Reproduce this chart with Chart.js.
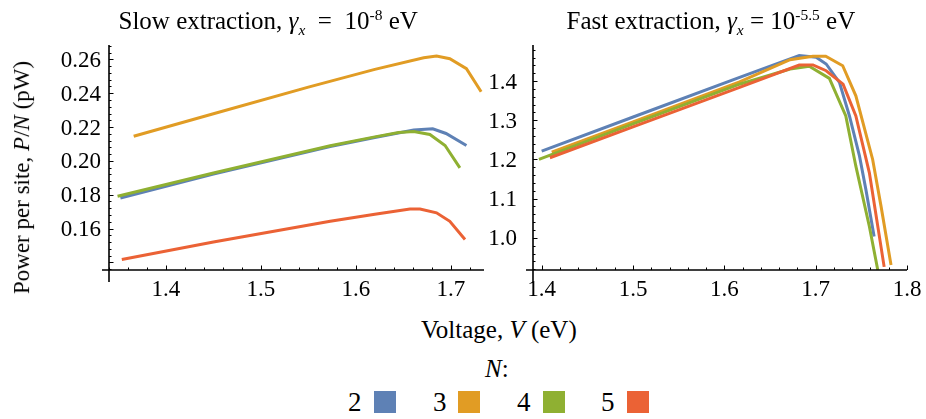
<!DOCTYPE html>
<html>
<head>
<meta charset="utf-8">
<script src="https://cdn.jsdelivr.net/npm/chart.js@4.4.0/dist/chart.umd.min.js"></script>
<style>
  body { margin: 0; background: #fff; width: 926px; height: 419px; overflow: hidden; position: relative;
         font-family: "Liberation Serif", "Times New Roman", serif; color: #000; }
  .t { position: absolute; white-space: nowrap; line-height: 1; }
  canvas { position: absolute; top: 0; }
  #slow { left: 0; }
  #fast { left: 490px; }
  sub, sup { font-size: 62%; line-height: 0; }
  .sw { position: absolute; width: 22px; height: 22px; top: 391px; }
</style>
</head>
<body>
<canvas id="slow" width="490" height="310"></canvas>
<canvas id="fast" width="436" height="310"></canvas>

<div class="t" id="title1" style="font-size:25px;">Slow extraction, <i>&gamma;<sub>x</sub></i> &nbsp;=&nbsp; 10<sup>-8</sup> eV</div>
<div class="t" id="title2" style="font-size:25px;">Fast extraction, <i>&gamma;<sub>x</sub></i> = 10<sup>-5.5</sup> eV</div>
<div class="t" id="ylab" style="font-size:23px;">Power per site, <i>P</i>/<i>N</i> (pW)</div>
<div class="t" id="xlab" style="font-size:25px;">Voltage, <i>V</i> (eV)</div>
<div class="t" id="nlab" style="font-size:25px;"><i>N</i>:</div>
<div id="legend"></div>

<script>
// N values and colours
const nValues = [2, 3, 4, 5];
const colors = ['#5E81B5', '#E19C24', '#8FB032', '#EB6235'];

// slow extraction, gamma_x = 1e-8 eV
const slowV2 = [1.352, 1.45, 1.573, 1.62, 1.661, 1.681, 1.695, 1.7165];
const slowP2 = [0.1781, 0.1922, 0.2085, 0.2138, 0.2182, 0.2190, 0.2162, 0.2091];
const slowV3 = [1.366, 1.45, 1.55, 1.62, 1.6715, 1.685, 1.699, 1.7165, 1.732];
const slowP3 = [0.2146, 0.2279, 0.2436, 0.2541, 0.2610, 0.2620, 0.2604, 0.2545, 0.2409];
const slowV4 = [1.349, 1.45, 1.573, 1.62, 1.645, 1.661, 1.678, 1.694, 1.7096];
const slowP4 = [0.1791, 0.1928, 0.2089, 0.2142, 0.2168, 0.2174, 0.2156, 0.2091, 0.1959];
const slowV5 = [1.3535, 1.45, 1.573, 1.62, 1.657, 1.6676, 1.685, 1.699, 1.715];
const slowP5 = [0.1417, 0.1520, 0.1643, 0.1685, 0.1716, 0.1716, 0.1693, 0.1643, 0.1535];

// fast extraction, gamma_x = 1e-5.5 eV
const fastV2 = [1.4, 1.5075, 1.6167, 1.682, 1.7005, 1.7115, 1.726, 1.737, 1.748, 1.755, 1.764];
const fastP2 = [1.2213, 1.3147, 1.4095, 1.465, 1.461, 1.4436, 1.3967, 1.311, 1.2085, 1.123, 1.0033];
const fastV3 = [1.411, 1.5, 1.6167, 1.672, 1.697, 1.711, 1.7296, 1.744, 1.7624, 1.7716, 1.7825];
const fastP3 = [1.2188, 1.296, 1.398, 1.4546, 1.4633, 1.4633, 1.4392, 1.3623, 1.2, 1.0803, 0.9308];
const fastV4 = [1.397, 1.5, 1.6167, 1.672, 1.693, 1.715, 1.733, 1.744, 1.7588, 1.768];
const fastP4 = [1.2, 1.291, 1.392, 1.4308, 1.4377, 1.4069, 1.311, 1.1828, 1.029, 0.918];
const fastV5 = [1.409, 1.5, 1.6167, 1.682, 1.697, 1.7115, 1.73, 1.744, 1.7588, 1.775];
const fastP5 = [1.2043, 1.283, 1.384, 1.441, 1.441, 1.4264, 1.3923, 1.311, 1.166, 0.926];

// tick labels
const slowXTicks = [1.4, 1.5, 1.6, 1.7];
const slowYTicks = [0.16, 0.18, 0.20, 0.22, 0.24, 0.26];
const fastXTicks = [1.4, 1.5, 1.6, 1.7, 1.8];
const fastYTicks = [1.0, 1.1, 1.2, 1.3, 1.4];

const labelFont = '23px "Liberation Serif", "Times New Roman", serif';

function pts(vs, ps) { return vs.map((v, i) => ({ x: v, y: ps[i] })); }

// Mathematica-like axes: lines crossing at the corner, ticks pointing inward,
// labels set in a Times-like face
const axesPlugin = {
  id: 'mmaAxes',
  afterDatasetsDraw(chart, args, o) {
    const { ctx, chartArea: a, scales: { x, y } } = chart;
    ctx.save();
    ctx.strokeStyle = '#000';
    ctx.lineWidth = 1.6;
    ctx.beginPath();
    ctx.moveTo(a.left - 7, a.bottom); ctx.lineTo(a.right, a.bottom);
    ctx.moveTo(a.left, a.top); ctx.lineTo(a.left, a.bottom + 12);
    ctx.stroke();
    ctx.lineWidth = 1;
    ctx.beginPath();
    const nx = Math.round((x.max - x.min) / o.minorX);
    for (let i = 0; i <= nx + 1; i++) {
      const v = Math.ceil(x.min / o.minorX - 1e-6) * o.minorX + i * o.minorX;
      if (v > x.max + 1e-9) break;
      const major = Math.abs(v / o.majorX - Math.round(v / o.majorX)) < 1e-6;
      const px = Math.round(x.getPixelForValue(v)) + 0.5;
      ctx.moveTo(px, a.bottom); ctx.lineTo(px, a.bottom - (major ? 4.5 : 2.5));
    }
    const ny = Math.round((y.max - y.min) / o.minorY);
    for (let i = 0; i <= ny + 1; i++) {
      const v = Math.ceil(y.min / o.minorY - 1e-6) * o.minorY + i * o.minorY;
      if (v > y.max + 1e-9) break;
      const major = Math.abs(v / o.majorY - Math.round(v / o.majorY)) < 1e-6;
      const py = Math.round(y.getPixelForValue(v)) + 0.5;
      ctx.moveTo(a.left, py); ctx.lineTo(a.left + (major ? 4.5 : 2.5), py);
    }
    ctx.stroke();

    ctx.fillStyle = '#000';
    ctx.font = labelFont;
    ctx.textAlign = 'center';
    ctx.textBaseline = 'alphabetic';
    x.ticks.forEach(t => ctx.fillText(t.value.toFixed(1), x.getPixelForValue(t.value), a.bottom + 26));
    ctx.textAlign = 'right';
    y.ticks.forEach(t => ctx.fillText(t.value.toFixed(o.digits), a.left - o.yPad, y.getPixelForValue(t.value) + 7.5));
    ctx.restore();
  }
};

function makeChart(id, vs, ps, xr, yr, xTicks, yTicks, yWidth, padRight, minor) {
  const datasets = nValues.map((n, i) => ({
    label: String(n),
    data: pts(vs[i], ps[i]),
    borderColor: colors[i],
    borderWidth: 3,
    pointRadius: 0,
    tension: 0,
    fill: false,
    order: 4 - i
  }));
  return new Chart(document.getElementById(id), {
    type: 'line',
    data: { datasets },
    options: {
      responsive: false,
      animation: false,
      layout: { padding: { top: 45, right: padRight, left: 0, bottom: 0 } },
      plugins: { legend: { display: false }, tooltip: { enabled: false }, mmaAxes: minor },
      scales: {
        x: {
          type: 'linear', min: xr[0], max: xr[1],
          grid: { display: false, drawTicks: false },
          border: { display: false },
          afterBuildTicks: s => { s.ticks = xTicks.map(v => ({ value: v })); },
          afterFit: s => { s.height = 40; },
          ticks: { display: false }
        },
        y: {
          type: 'linear', min: yr[0], max: yr[1],
          grid: { display: false, drawTicks: false },
          border: { display: false },
          afterBuildTicks: s => { s.ticks = yTicks.map(v => ({ value: v })); },
          afterFit: s => { s.width = yWidth; },
          ticks: { display: false }
        }
      }
    },
    plugins: [axesPlugin]
  });
}

makeChart('slow', [slowV2, slowV3, slowV4, slowV5], [slowP2, slowP3, slowP4, slowP5],
  [1.34, 1.735], [0.1355, 0.2685], slowXTicks, slowYTicks, 109, 6,
  { minorX: 0.02, majorX: 0.1, minorY: 0.004, majorY: 0.02, digits: 2, yPad: 8 });
makeChart('fast', [fastV2, fastV3, fastV4, fastV5], [fastP2, fastP3, fastP4, fastP5],
  [1.3905, 1.8], [0.918, 1.492], fastXTicks, fastYTicks, 43, 19,
  { minorX: 0.02, majorX: 0.1, minorY: 0.02, majorY: 0.1, digits: 1, yPad: 16 });

// text placement
function place(id, cx, cy) {
  const el = document.getElementById(id);
  el.style.left = (cx - el.offsetWidth / 2) + 'px';
  el.style.top = (cy - el.offsetHeight / 2) + 'px';
}
place('title1', 268, 20);
place('title2', 711, 20);
place('xlab', 499, 329);
place('nlab', 497, 368);
const yl = document.getElementById('ylab');
place('ylab', 21, 177);
yl.style.transform = 'rotate(-90deg)';

// legend: number then colour square
const legend = document.getElementById('legend');
const numX = [355, 440, 524, 608];
const swX = [374, 458, 543, 627];
nValues.forEach((n, i) => {
  const d = document.createElement('div');
  d.className = 't';
  d.style.fontSize = '27px';
  d.textContent = n;
  legend.appendChild(d);
  d.style.left = (numX[i] - d.offsetWidth / 2) + 'px';
  d.style.top = (402 - d.offsetHeight / 2) + 'px';
  const s = document.createElement('div');
  s.className = 'sw';
  s.style.left = swX[i] + 'px';
  s.style.background = colors[i];
  legend.appendChild(s);
});
</script>
</body>
</html>
